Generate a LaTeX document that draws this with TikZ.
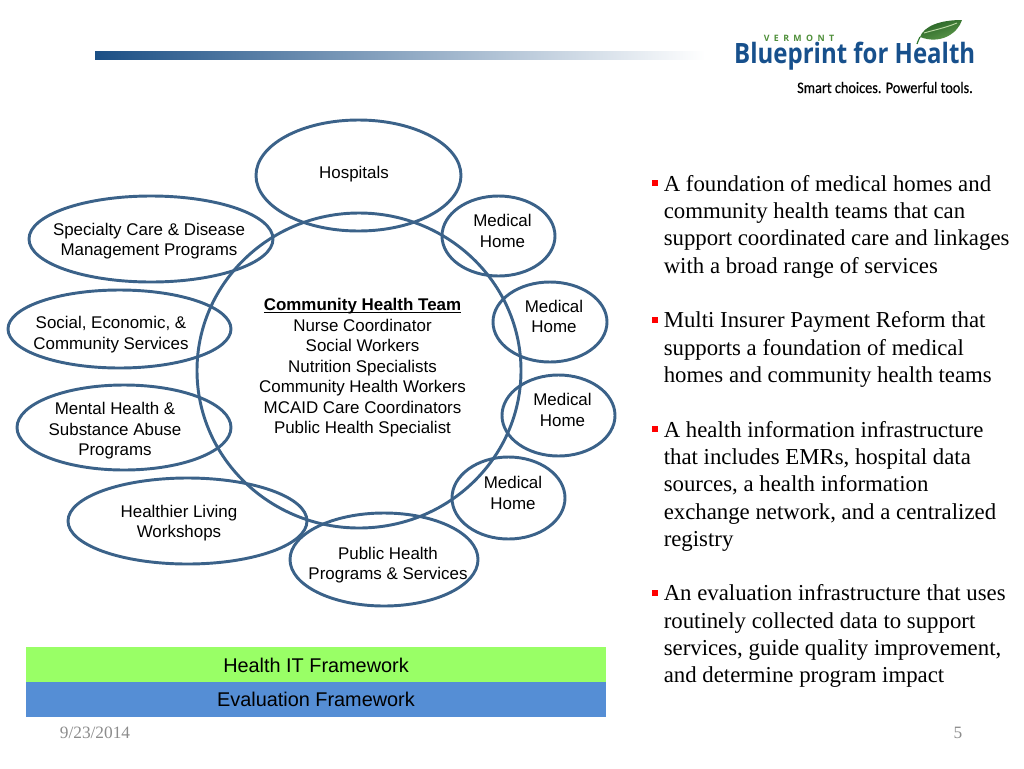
\documentclass[tikz,border=0pt]{standalone}
\usepackage{fontspec}
\setmainfont{Liberation Sans}
\newfontfamily\serifface{Liberation Serif}
\newfontfamily\logoface{Open Sans}
\newfontfamily\tagface[FakeBold=0.4]{Carlito}
\usetikzlibrary{shapes.geometric}
\definecolor{ringblue}{HTML}{3B6289}
\definecolor{barblue}{HTML}{558ED5}
\definecolor{bargreen}{HTML}{99FF66}
\definecolor{logoblue}{HTML}{17508C}
\definecolor{logogreen}{HTML}{4F8F3A}
\definecolor{leafdark}{HTML}{2F7A2E}
\definecolor{leaflight}{HTML}{8FC06A}
\definecolor{stripeblue}{HTML}{1B4F85}
\definecolor{stripegrey}{HTML}{C5C9D2}
\tikzset{
  x=0.75pt,y=-0.75pt,
  ring/.style={draw=ringblue,line width=2.2pt,ellipse,inner sep=0pt},
  ringtext/.style={align=center,font=\fontsize{12.7}{15.4}\selectfont,inner sep=0pt,text=black},
  bartext/.style={font=\fontsize{14.9}{17}\selectfont,inner sep=0pt,text=black},
  para/.style={anchor=north west,align=left,inner sep=0pt,font=\serifface\fontsize{17.1}{20.45}\selectfont,text=black},
  bul/.style={fill=red,inner sep=0pt,minimum size=4.5pt},
  foot/.style={font=\serifface\fontsize{13}{15}\selectfont,text=black!45,inner sep=0pt},
}
\newcommand{\ringnode}[6]{% name, cx, cy, w, h (px)
  \node[ring,minimum width=#4*0.75pt,minimum height=#5*0.75pt] (#1) at (#2,#3) {};}
\begin{document}
\begin{tikzpicture}
\useasboundingbox (0,0) rectangle (1024,768);
% header stripe
\shade[left color=stripeblue,middle color=stripegrey,right color=white] (95,51) rectangle (705,59);
% logo
\shade[left color=leafdark!80!black,right color=leaflight!60!leafdark,shading angle=20]
  (920,37) .. controls (924,26) and (940,20) .. (962,20) .. controls (958,33) and (941,45) .. (920,37) -- cycle;
\draw[leafdark,line width=0.9pt] (917,44) .. controls (918,41) and (919,39) .. (920,37);
\draw[leaflight!60!white,line width=0.7pt] (924,33) .. controls (934,30) and (945,28) .. (957,23);
\node[inner sep=0pt,text=logogreen,font=\logoface\bfseries\fontsize{6.6}{8}\selectfont] (vt) at (799,38) {V\,\,\,E\,\,\,R\,\,\,M\,\,\,O\,\,\,N\,\,\,T};
\node[inner sep=0pt,text=logoblue,font=\logoface\bfseries\fontsize{21}{25}\selectfont,anchor=base west,xscale=0.857] (bp) at (734,63.5) {Blueprint for Health};
\node[inner sep=0pt,text=black,font=\tagface\fontsize{12}{14}\selectfont,anchor=base east,xscale=0.89] (tag) at (973,93) {Smart choices. Powerful tools.};
% rings
\ringnode{hosp}{358.5}{175.5}{205}{111}{}
\ringnode{cht}{359}{370.5}{324}{315}{}
\ringnode{mh1}{498.5}{236}{113}{80}{}
\ringnode{mh2}{550}{322}{114}{80}{}
\ringnode{mh3}{558.5}{415.5}{113}{81}{}
\ringnode{mh4}{508.5}{498}{113}{82}{}
\ringnode{pub}{384}{559.5}{188}{93}{}
\ringnode{live}{187.5}{521}{239}{86}{}
\ringnode{ment}{124}{427.5}{214}{85}{}
\ringnode{soc}{119.5}{329}{223}{78}{}
\ringnode{spec}{151}{239}{244}{86}{}
% ring texts
\node[ringtext] (thosp) at (354,174.5) {Hospitals};
\node[ringtext] (tcht) at (362.5,368) {\underline{\smash{\textbf{Community Health Team}}}\vphantom{Ag}\\Nurse Coordinator\\Social Workers\\Nutrition Specialists\\Community Health Workers\\MCAID Care Coordinators\\Public Health Specialist};
\node[ringtext] (tmh1) at (502.5,231) {Medical\\Home};
\node[ringtext] (tmh2) at (554,316.5) {Medical\\Home};
\node[ringtext] (tmh3) at (562.5,410) {Medical\\Home};
\node[ringtext] (tmh4) at (513,493) {Medical\\Home};
\node[ringtext] (tpub) at (388,565) {Public Health\\Programs \& Services};
\node[ringtext] (tlive) at (179,523) {Healthier Living\\Workshops};
\node[ringtext] (tment) at (115,431) {Mental Health \&\\Substance Abuse\\Programs};
\node[ringtext] (tsoc) at (111,334.5) {Social, Economic, \&\\Community Services};
\node[ringtext] (tspec) at (149,241) {Specialty Care \& Disease\\Management Programs};
% framework bars
\node[fill=bargreen,minimum width=580*0.75pt,minimum height=35*0.75pt,inner sep=0pt] (it) at (316,664.5) {};
\node[fill=barblue,minimum width=580*0.75pt,minimum height=35*0.75pt,inner sep=0pt] (ev) at (316,699.5) {};
\node[bartext] (tit) at (316,665.5) {Health IT Framework};
\node[bartext] (tev) at (316,699.5) {Evaluation Framework};
% bullet list
\node[bul] (b1) at (654.5,183.3) {};
\node[para] (p1) at (663.5,175) {A foundation of medical homes and\\community health teams that can\\support coordinated care and linkages\\with a broad range of services};
\node[bul] (b2) at (654.5,319.8) {};
\node[para] (p2) at (663.5,311.5) {Multi Insurer Payment Reform that\\supports a foundation of medical\\homes and community health teams};
\node[bul] (b3) at (654.5,429.3) {};
\node[para] (p3) at (663.5,421) {A health information infrastructure\\that includes EMRs, hospital data\\sources, a health information\\exchange network, and a centralized\\registry};
\node[bul] (b4) at (654.5,592.8) {};
\node[para] (p4) at (663.5,584.5) {An evaluation infrastructure that uses\\routinely collected data to support\\services, guide quality improvement,\\and determine program impact};
% footer
\node[foot] (date) at (95,733) {9/23/2014};
\node[foot] (pg) at (958,733) {5};
\end{tikzpicture}
\end{document}
